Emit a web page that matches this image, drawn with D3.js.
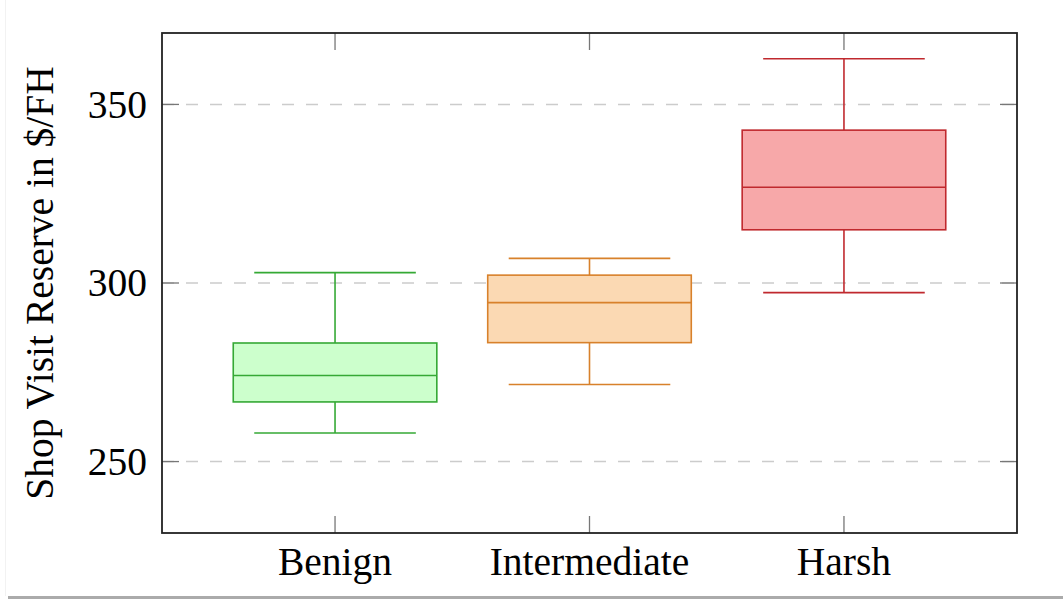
<!DOCTYPE html>
<html>
<head>
<meta charset="utf-8">
<script src="https://cdn.jsdelivr.net/npm/d3@7"></script>
<style>
  body { margin: 0; background: #fff; }
  svg { display: block; }
</style>
</head>
<body>
<div id="chart"></div>
<script>
var categories = ["Benign", "Intermediate", "Harsh"];
var lowWhisker = [258.0, 271.6, 297.3];
var q1 = [266.7, 283.3, 314.9];
var median = [274.1, 294.5, 326.8];
var q3 = [283.2, 302.2, 342.8];
var highWhisker = [302.9, 306.9, 362.8];
var yTicks = [250, 300, 350];

var strokeColors = ["#35a935", "#d8812b", "#c0292e"];
var fillColors = ["#ccffcc", "#fbd9b3", "#f7a8a9"];

var width = 1063, height = 599;
var margin = {top: 33, right: 46, bottom: 66, left: 162};
var font = "'Liberation Serif', 'Times New Roman', serif";
var fontSize = 39.5;

var svg = d3.select("#chart")
    .append("svg")
    .attr("width", width)
    .attr("height", height);

// page shadow
svg.append("rect")
    .attr("x", 5).attr("y", 0)
    .attr("width", 1).attr("height", 596)
    .attr("fill", "#f2f2f2");
svg.append("rect")
    .attr("x", 8).attr("y", 596)
    .attr("width", width - 8).attr("height", 3)
    .attr("fill", "#ababab");

var x = d3.scaleLinear()
    .domain([0.32, 3.68])
    .range([margin.left, width - margin.right]);

var y = d3.scaleLinear()
    .domain([230, 370])
    .range([height - margin.bottom, margin.top]);

var boxW = 0.8, capW = 0.635;

// grid
svg.append("g")
    .selectAll("line")
    .data(yTicks)
    .enter()
    .append("line")
    .attr("x1", margin.left).attr("x2", width - margin.right)
    .attr("y1", function(d) { return y(d); })
    .attr("y2", function(d) { return y(d); })
    .attr("stroke", "#cccccc")
    .attr("stroke-width", 1.6)
    .attr("stroke-dasharray", "12,12");

// ticks (inside, mirrored)
var tickLen = 17;
var ticks = svg.append("g").attr("stroke", "#777").attr("stroke-width", 1.3);
yTicks.forEach(function(t) {
  ticks.append("line")
      .attr("x1", margin.left).attr("x2", margin.left + tickLen)
      .attr("y1", y(t)).attr("y2", y(t));
  ticks.append("line")
      .attr("x1", width - margin.right - tickLen).attr("x2", width - margin.right)
      .attr("y1", y(t)).attr("y2", y(t));
});
categories.forEach(function(c, i) {
  ticks.append("line")
      .attr("x1", x(i + 1)).attr("x2", x(i + 1))
      .attr("y1", height - margin.bottom).attr("y2", height - margin.bottom - tickLen);
  ticks.append("line")
      .attr("x1", x(i + 1)).attr("x2", x(i + 1))
      .attr("y1", margin.top).attr("y2", margin.top + tickLen);
});

// boxes
var node = svg.selectAll(".box")
    .data(categories)
    .enter()
    .append("g")
    .attr("class", "box")
    .attr("fill", "none")
    .attr("stroke-width", 1.6)
    .attr("stroke", function(d, i) { return strokeColors[i]; });

node.append("line")
    .attr("x1", function(d, i) { return x(i + 1); })
    .attr("x2", function(d, i) { return x(i + 1); })
    .attr("y1", function(d, i) { return y(highWhisker[i]); })
    .attr("y2", function(d, i) { return y(lowWhisker[i]); });

node.append("line")
    .attr("x1", function(d, i) { return x(i + 1 - capW / 2); })
    .attr("x2", function(d, i) { return x(i + 1 + capW / 2); })
    .attr("y1", function(d, i) { return y(highWhisker[i]); })
    .attr("y2", function(d, i) { return y(highWhisker[i]); });

node.append("line")
    .attr("x1", function(d, i) { return x(i + 1 - capW / 2); })
    .attr("x2", function(d, i) { return x(i + 1 + capW / 2); })
    .attr("y1", function(d, i) { return y(lowWhisker[i]); })
    .attr("y2", function(d, i) { return y(lowWhisker[i]); });

node.append("rect")
    .attr("x", function(d, i) { return x(i + 1 - boxW / 2); })
    .attr("width", function(d, i) { return x(i + 1 + boxW / 2) - x(i + 1 - boxW / 2); })
    .attr("y", function(d, i) { return y(q3[i]); })
    .attr("height", function(d, i) { return y(q1[i]) - y(q3[i]); })
    .attr("fill", function(d, i) { return fillColors[i]; });

node.append("line")
    .attr("x1", function(d, i) { return x(i + 1 - boxW / 2); })
    .attr("x2", function(d, i) { return x(i + 1 + boxW / 2); })
    .attr("y1", function(d, i) { return y(median[i]); })
    .attr("y2", function(d, i) { return y(median[i]); });

// frame
svg.append("rect")
    .attr("x", margin.left).attr("y", margin.top)
    .attr("width", width - margin.left - margin.right)
    .attr("height", height - margin.top - margin.bottom)
    .attr("fill", "none")
    .attr("stroke", "#222")
    .attr("stroke-width", 1.8);

// tick labels
svg.append("g")
    .selectAll("text")
    .data(yTicks)
    .enter()
    .append("text")
    .attr("x", margin.left - 15)
    .attr("y", function(d) { return y(d); })
    .attr("dy", "0.34em")
    .attr("text-anchor", "end")
    .attr("font-family", font)
    .attr("font-size", fontSize)
    .text(function(d) { return d; });

svg.append("g")
    .selectAll("text")
    .data(categories)
    .enter()
    .append("text")
    .attr("x", function(d, i) { return x(i + 1); })
    .attr("y", 575)
    .attr("text-anchor", "middle")
    .attr("font-family", font)
    .attr("font-size", fontSize)
    .text(function(d) { return d; });

svg.append("text")
    .attr("transform", "translate(53," + ((margin.top + height - margin.bottom) / 2) + ") rotate(-90)")
    .attr("text-anchor", "middle")
    .attr("font-family", font)
    .attr("font-size", fontSize)
    .text("Shop Visit Reserve in $/FH");
</script>
</body>
</html>
